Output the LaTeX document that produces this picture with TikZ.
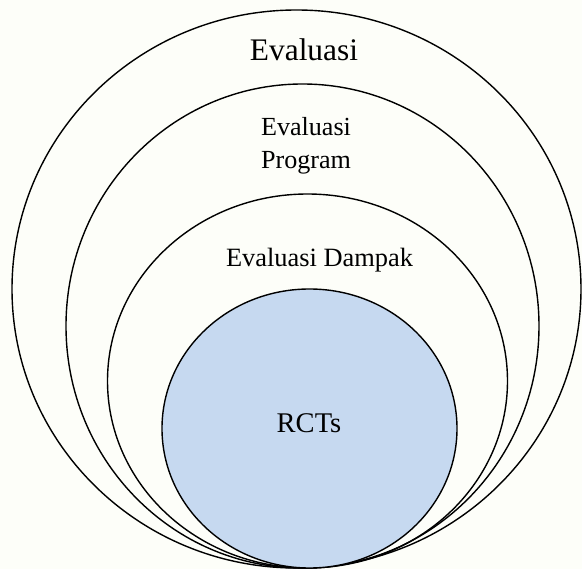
\documentclass[tikz,border=0pt]{standalone}
\usepackage{fontspec}
\setmainfont{Liberation Serif}
\newfontfamily\tmsfont{Liberation Serif}
\definecolor{bgcream}{RGB}{253,254,249}
\definecolor{rctblue}{RGB}{198,217,240}
\tikzset{
  ring/.style={draw=black, line width=1.4pt},
  lbl/.style={anchor=base, inner sep=0pt, text=black}
}
\begin{document}
\begin{tikzpicture}[x=1pt,y=-1pt]
  \fill[bgcream] (0,0) rectangle (582,569);
  \useasboundingbox (0,0) rectangle (582,569);
  \draw[ring] (296.5,289) ellipse [x radius=284.5, y radius=279];
  \draw[ring] (302.5,326) ellipse [x radius=236.5, y radius=242];
  \draw[ring] (307.5,381) ellipse [x radius=200, y radius=187];
  \draw[ring, fill=rctblue] (309.5,428.5) ellipse [x radius=147.5, y radius=139.5];
  \node[lbl, font=\tmsfont\fontsize{31.4}{36}\selectfont] (eval) at (304,61) {Evaluasi};
  \node[lbl, font=\tmsfont\fontsize{26.1}{32.6}\selectfont] (evalprog1) at (306,135.7) {Evaluasi};
  \node[lbl, font=\tmsfont\fontsize{26.1}{32.6}\selectfont] (evalprog2) at (306,168.3) {Program};
  \node[lbl, font=\tmsfont\fontsize{26.4}{32}\selectfont] (evaldamp) at (319.5,266.7) {Evaluasi Dampak};
  \node[lbl, font=\tmsfont\fontsize{28.5}{34}\selectfont] (rcts) at (309,432.7) {RCTs};
\end{tikzpicture}
\end{document}
